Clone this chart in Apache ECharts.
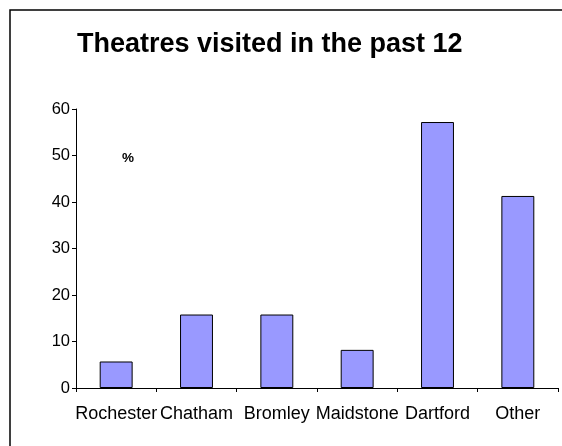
<!DOCTYPE html>
<html>
<head>
<meta charset="utf-8">
<script src="https://cdn.jsdelivr.net/npm/echarts@6/dist/echarts.min.js"></script>
<style>
html,body{margin:0;padding:0;background:#fff;}
#chart{width:562px;height:446px;}
</style>
</head>
<body>
<div id="chart"></div>
<script>
const categories = ["Rochester", "Chatham", "Bromley", "Maidstone", "Dartford", "Other"];
const values = [5.7, 15.8, 15.8, 8.2, 57.2, 41.3];
const titleText = "Theatres visited in the past 12";
const unitLabel = "%";

const chart = echarts.init(document.getElementById('chart'), null, {renderer: 'canvas'});
const font = 'Liberation Sans, Arial, Helvetica, sans-serif';
chart.setOption({
  animation: false,
  backgroundColor: '#fff',
  title: {
    text: titleText,
    left: 77,
    top: 31,
    padding: 0,
    textStyle: {fontFamily: font, fontSize: 27, fontWeight: 'bold', color: '#000'}
  },
  graphic: [
    {type: 'rect', shape: {x: 10, y: 10, width: 700, height: 600}, style: {fill: 'none', stroke: '#000', lineWidth: 1.5}, silent: true},
    {type: 'text', left: 122, top: 151, style: {text: unitLabel, fontFamily: font, fontSize: 13.5, fontWeight: 'bold', fill: '#000'}}
  ],
  grid: {left: 76, right: 4, top: 109, bottom: 58, containLabel: false},
  xAxis: {
    type: 'category',
    data: categories,
    axisLine: {lineStyle: {color: '#000', width: 1}},
    axisTick: {show: true, alignWithLabel: false, length: 4, lineStyle: {color: '#000'}},
    axisLabel: {interval: 0, color: '#000', fontFamily: font, fontSize: 18, margin: 17}
  },
  yAxis: {
    type: 'value',
    min: 0, max: 60, interval: 10,
    splitLine: {show: false},
    axisLine: {show: true, lineStyle: {color: '#000', width: 1}},
    axisTick: {show: true, length: 4, lineStyle: {color: '#000'}},
    axisLabel: {color: '#000', fontFamily: font, fontSize: 16.5, margin: 6}
  },
  series: [{
    type: 'bar',
    data: values,
    barWidth: '41%',
    itemStyle: {color: '#9999FF', borderColor: '#000', borderWidth: 1}
  }]
});
</script>
</body>
</html>
